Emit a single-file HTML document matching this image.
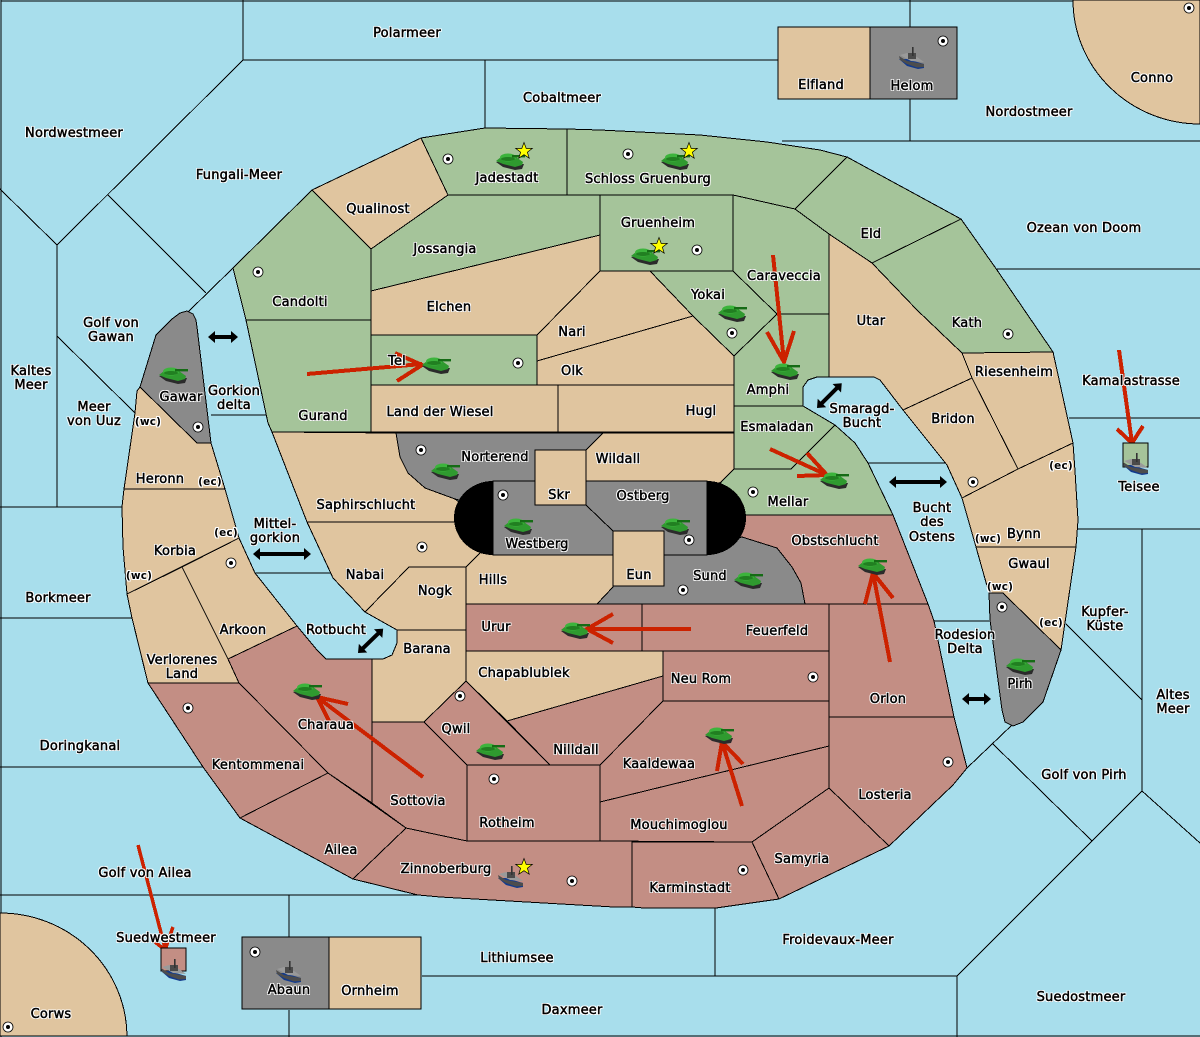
<!DOCTYPE html>
<html><head><meta charset="utf-8"><title>Map</title>
<style>
html,body{margin:0;padding:0;width:1200px;height:1037px;overflow:hidden;background:#a8deec}
#m{position:relative;width:1200px;height:1037px;overflow:hidden;background:#a8deec}
svg{position:absolute;left:0;top:0;display:block}
.t{fill:#e0c59f}.g{fill:#a5c49a}.r{fill:#c38e84}.y{fill:#8a8a8a}
polygon,rect.b,path.b{stroke:#000;stroke-width:1}
.s line,.s path{stroke:#000;stroke-width:1;fill:none}
.a path{stroke:#cc2200;stroke-width:4;fill:none}
#m span{position:absolute;transform:translate(-50%,calc(-50% + 2px));white-space:nowrap;font:13px/14px "DejaVu Sans","Liberation Sans",sans-serif;letter-spacing:.2px;color:#000;-webkit-text-stroke:.5px #000;text-shadow:1px 0 0 #fff,-1px 0 0 #fff,0 1px 0 #fff,0 -1px 0 #fff,1px 1px 0 #fff,-1px -1px 0 #fff,1px -1px 0 #fff,-1px 1px 0 #fff}
#m span.w{font-size:10.5px;font-weight:bold;-webkit-text-stroke:0}
</style></head><body><div id="m">
<svg width="1200" height="1037" viewBox="0 0 1200 1037" shape-rendering="crispEdges">
<defs>
<g id="tk" shape-rendering="auto"><polygon style="stroke:none" fill="#2b2b2b" points="0,10 7,15 19,18 26,17 28,12 19,12 7,9"/><polygon style="stroke:none" fill="#2f9a2f" points="0,9 5,5 20,5 27,10 26,13 19,15 7,12"/><ellipse cx="12" cy="5.5" rx="8" ry="4" fill="#3cb43c"/><ellipse cx="12" cy="7" rx="7" ry="2" fill="#217f21"/><rect x="16" y="3" width="13" height="2.4" fill="#156b15"/></g>
<g id="sh" shape-rendering="auto"><polygon style="stroke:none" fill="#123a8c" points="0,12 8,19 19,22 25,21 25,17 8,12"/><polygon style="stroke:none" fill="#4d4d4d" points="0,9 8,14 25,17 25,20 18,20.5 8,17 1,13"/><polygon style="stroke:none" fill="#9a9a9a" points="1,8 8,6 18,10 25,15 12,14"/><rect x="9" y="6" width="8" height="6" fill="#4a4a4a"/><rect x="13" y="0" width="1.6" height="9" fill="#333"/></g>
<g id="d" shape-rendering="auto"><circle r="5" fill="#fff" stroke="#000" stroke-width=".8"/><circle r="2" fill="#000"/></g>
<polygon id="st" shape-rendering="auto" style="stroke:#000;stroke-width:.7" fill="#ff0" points="0,-8.5 2.2,-2.6 8.3,-2.6 3.4,1.2 5.2,7.2 0,3.7 -5.2,7.2 -3.4,1.2 -8.3,-2.6 -2.2,-2.6"/>
</defs>

<g class="s">
<path d="M1,1H1200M1,0V1037M0,1036H1200"/>
<path d="M243,0V60H778M485,60V128M243,60L57,245L0,189M57,245V507M108,195L206,293M233,268L188,312M57,336L135,413M0,507H122M0,618H132M0,767H203M0,895H418M289,895V937M289,1010V1037M422,976H957M715,908V976M957,976V1037M957,976L1092,841L1142,791L1200,843M1092,841L993,744M1142,791V529M1078,529H1200M1069,418H1200M997,269H1200M1066,624L1142,700M1012,725L967,768M910,0V27M910,99V141M782,141H1200M934,621H989M868,463H945M211,415H266M255,573H330"/>
</g>
<path class="t b" d="M1073,0A127,124 0 0 0 1200,124V0Z"/>
<path class="t b" d="M0,913A127,124 0 0 1 127,1036H0Z"/>

<!-- north -->
<polygon class="t" points="312,190 421,138 448,195 371,249"/>
<polygon class="g" points="421,138 485,128 567,129 567,195 448,195"/>
<polygon class="g" points="567,129 600,130 700,135 767,142 820,150 847,157 795,209 733,195 567,195"/>
<polygon class="g" points="233,268 312,190 371,249 371,320 246,320"/>
<polygon class="g" points="246,320 371,320 371,432 272,432 268,423"/>
<polygon class="g" points="371,249 448,195 600,195 600,235 371,291"/>
<polygon class="g" points="600,195 733,195 733,271 600,271"/>
<polygon class="t" points="371,291 600,235 600,271 537,335 371,335"/>
<polygon class="t" points="600,271 650,271 693,316 537,361 537,335"/>
<polygon class="t" points="537,361 693,316 734,356 734,385 537,385"/>
<polygon class="g" points="371,335 537,335 537,385 371,385"/>
<polygon class="t" points="371,385 558,385 558,432 371,432"/>
<polygon class="t" points="558,385 734,385 734,432 558,432"/>
<polygon class="g" points="650,271 733,271 777,314 734,356 693,316"/>
<polygon class="g" points="733,195 795,209 829,234 829,314 777,314 733,271"/>
<polygon class="g" points="777,314 829,314 829,377 817,377 808,380 803,387 803,406 734,406 734,356"/>
<polygon class="g" points="847,157 961,219 872,263 829,234 795,209"/>
<polygon class="g" points="961,219 997,270 1053,352 962,353 917,310 872,263"/>
<polygon class="t" points="829,234 872,263 917,310 962,353 972,378 903,410 880,380 874,377 829,377"/>
<polygon class="t" points="962,353 1053,352 1073,443 1018,469 972,378"/>
<polygon class="t" points="972,378 1018,469 962,498 947,465 903,410"/>
<polygon class="t" points="962,498 1018,469 1073,443 1075,471 1078,520 1076,547 976,547"/>
<polygon class="t" points="976,547 1076,547 1061,650 1003,593 989,593"/>
<polygon class="y" points="989,593 1003,593 1061,650 1043,702 1023,722 1013,726 1005,722 1002,710 990,620"/>
<polygon class="g" points="734,406 803,406 835,425 791,469 734,469"/>
<polygon class="g" points="721,482 734,469 791,469 835,425 855,443 868,463 893,515 746,515 720,515"/>
<polygon class="r" points="746,515 893,515 928,604 805,604 707,604 707,515"/>
<!-- west -->
<polygon class="y" points="140,387 156,335 172,319 180,313 187,311 193,314 196,320 197,327 211,443 197,443"/>
<polygon class="t" points="140,387 197,443 211,443 225,489 124,489 135,413 137,391"/>
<polygon class="t" points="124,489 225,489 239,538 127,594 123,547 122,507"/>
<polygon class="t" points="127,594 182,567 228,659 239,683 148,683 132,618"/>
<polygon class="t" points="182,567 239,538 255,573 297,626 228,659"/>
<polygon class="r" points="297,626 317,650 326,659 372,659 372,803 328,773 239,683 228,659"/>
<polygon class="r" points="148,683 239,683 328,773 240,818 203,767"/>
<polygon class="r" points="240,818 328,773 406,828 353,879"/>
<!-- centre -->
<polygon class="t" points="272,432 396,433 400,457 408,473 425,488 455,499 470,510 470,522 307,522"/>
<polygon class="y" points="396,433 603,433 586,450 586,490 493,490 480,505 455,499 425,488 408,473 400,457"/>
<polygon class="t" points="603,433 734,433 734,469 721,482 707,490 586,490 586,450"/>
<polygon class="t" points="307,522 470,522 480,553 466,567 409,567 365,612 333,578"/>
<polygon class="t" points="466,567 480,553 480,545 613,545 613,587 597,604 466,604"/>
<polygon class="t" points="409,567 466,567 466,630 397,630 365,612"/>
<polygon class="y" points="597,604 613,587 613,545 707,545 742,537 777,548 792,567 801,583 805,604"/>
<polygon class="r" points="466,604 642,604 642,651 466,651"/>
<polygon class="r" points="642,604 829,604 829,651 642,651"/>
<polygon class="t" points="466,651 663,651 663,676 507,721 466,681"/>
<polygon class="t" points="397,630 466,630 466,681 424,722 372,722 372,659 383,659 392,655 397,643"/>
<polygon class="r" points="466,681 550,765 467,765 424,722"/>
<polygon class="r" points="507,721 663,676 663,701 600,765 550,765"/>
<polygon class="r" points="467,765 600,765 600,841 467,841"/>
<polygon class="r" points="663,651 829,651 829,701 663,701"/>
<polygon class="r" points="663,701 829,701 829,746 600,802 600,765"/>
<polygon class="r" points="600,802 829,746 829,788 752,842 600,841"/>
<polygon class="r" points="829,604 928,604 934,621 954,717 829,717"/>
<polygon class="r" points="829,717 954,717 967,768 953,785 889,846 829,788"/>
<polygon class="r" points="829,788 889,846 779,899 752,842"/>
<polygon class="r" points="632,842 752,842 779,899 716,908 644,908 632,907"/>
<polygon class="r" points="406,828 467,841 632,841 632,907 614,907 561,904 440,897 418,895 353,879"/>
<polygon class="r" points="372,722 424,722 467,765 467,841 406,828 372,803"/>
<!-- stadium -->
<rect class="y b" x="493" y="481" width="214" height="74"/>
<path d="M493,481A39,37 0 0 0 493,555ZM707,481A39,37 0 0 1 707,555Z" fill="#000"/>
<rect class="t b" x="535" y="450" width="51" height="55"/>
<rect class="t b" x="613" y="531" width="51" height="55"/>
<g class="s"><path d="M586,505L613,531"/></g>

<!-- red arrows -->
<g class="a">
<path d="M307,374L422,364M395,353L422,365L397,381"/>
<path d="M773,255L784,362M767,332L784,362L794,331"/>
<path d="M770,449L827,475M807,453L827,475L797,476"/>
<path d="M691,629L587,629M613,614L587,629L613,643"/>
<path d="M890,662L873,573M865,604L873,573L893,598"/>
<path d="M742,806L722,742M717,771L722,742L743,764"/>
<path d="M423,777L317,697M348,704L317,697L329,721"/>
<path d="M1119,350L1132,443M1117,429L1132,443L1143,426"/>
<path style="stroke-width:3.5" d="M138,845L165,948M155,942L165,950L173,927"/>
</g>

<!-- boxes -->
<rect class="t b" x="778" y="27" width="92" height="72"/>
<rect class="y b" x="870" y="27" width="87" height="72"/>
<rect class="y b" x="242" y="937" width="87" height="72"/>
<rect class="t b" x="329" y="937" width="92" height="72"/>
<rect class="g b" x="1123" y="443" width="25" height="24"/>
<rect class="r b" x="161" y="948" width="25" height="23"/>

<!-- tanks -->
<use href="#tk" x="496" y="152"/><use href="#tk" x="661" y="152"/><use href="#tk" x="631" y="247"/>
<use href="#tk" x="718" y="304"/><use href="#tk" x="771" y="362"/><use href="#tk" x="820" y="471"/>
<use href="#tk" x="422" y="356"/><use href="#tk" x="159" y="366"/><use href="#tk" x="431" y="462"/>
<use href="#tk" x="504" y="517"/><use href="#tk" x="661" y="517"/><use href="#tk" x="734" y="571"/>
<use href="#tk" x="858" y="557"/><use href="#tk" x="1006" y="657"/><use href="#tk" x="561" y="621"/>
<use href="#tk" x="293" y="682"/><use href="#tk" x="476" y="742"/><use href="#tk" x="705" y="726"/>
<!-- ships -->
<use href="#sh" x="899" y="47"/><use href="#sh" x="276" y="961"/><use href="#sh" x="161" y="959"/><use href="#sh" x="1123" y="453"/><use href="#sh" x="498" y="866"/>
<!-- stars -->
<use href="#st" x="524" y="151"/><use href="#st" x="689" y="151"/><use href="#st" x="659" y="246"/><use href="#st" x="524" y="867"/>
<!-- dots -->
<use href="#d" x="448" y="159"/><use href="#d" x="258" y="272"/><use href="#d" x="518" y="363"/><use href="#d" x="198" y="427"/>
<use href="#d" x="421" y="450"/><use href="#d" x="503" y="495"/><use href="#d" x="628" y="154"/><use href="#d" x="697" y="250"/>
<use href="#d" x="732" y="333"/><use href="#d" x="1008" y="334"/><use href="#d" x="973" y="482"/><use href="#d" x="753" y="492"/>
<use href="#d" x="689" y="540"/><use href="#d" x="683" y="590"/><use href="#d" x="422" y="547"/><use href="#d" x="231" y="563"/>
<use href="#d" x="188" y="708"/><use href="#d" x="460" y="696"/><use href="#d" x="494" y="779"/><use href="#d" x="572" y="881"/>
<use href="#d" x="813" y="677"/><use href="#d" x="948" y="762"/><use href="#d" x="743" y="870"/><use href="#d" x="1002" y="607"/>
<use href="#d" x="1189" y="8"/><use href="#d" x="943" y="41"/><use href="#d" x="255" y="952"/><use href="#d" x="8" y="1027"/>
<!-- black arrows -->
<g fill="#000" shape-rendering="auto">
<path d="M208,337l7,-6v4h16v-4l7,6l-7,6v-4h-16v4z"/>
<path d="M962,699l7,-6v4h15v-4l7,6l-7,6v-4h-15v4z"/>
<path d="M889,482l7,-6v4h44v-4l7,6l-7,6v-4h-44v4z"/>
<path d="M253,554l7,-6v4h44v-4l7,6l-7,6v-4h-44v4z"/>
<path transform="translate(358,653) rotate(-44)" d="M0,0l7,-6v4h21v-4l7,6l-7,6v-4h-21v4z"/>
<path transform="translate(817,408) rotate(-45)" d="M0,0l7,-6v4h21v-4l7,6l-7,6v-4h-21v4z"/>
</g>
</svg>

<span style="left:407px;top:32px">Polarmeer</span>
<span style="left:562px;top:97px">Cobaltmeer</span>
<span style="left:821px;top:84px">Elfland</span>
<span style="left:912px;top:85px">Helom</span>
<span style="left:1152px;top:77px">Conno</span>
<span style="left:1029px;top:111px">Nordostmeer</span>
<span style="left:74px;top:132px">Nordwestmeer</span>
<span style="left:239px;top:174px">Fungali-Meer</span>
<span style="left:378px;top:208px">Qualinost</span>
<span style="left:507px;top:177px">Jadestadt</span>
<span style="left:648px;top:178px">Schloss Gruenburg</span>
<span style="left:871px;top:233px">Eld</span>
<span style="left:658px;top:222px">Gruenheim</span>
<span style="left:445px;top:248px">Jossangia</span>
<span style="left:784px;top:275px">Caraveccia</span>
<span style="left:1084px;top:227px">Ozean von Doom</span>
<span style="left:708px;top:294px">Yokai</span>
<span style="left:300px;top:301px">Candolti</span>
<span style="left:449px;top:306px">Elchen</span>
<span style="left:871px;top:320px">Utar</span>
<span style="left:967px;top:322px">Kath</span>
<span style="left:572px;top:331px">Nari</span>
<span style="left:111px;top:322px">Golf von</span>
<span style="left:111px;top:336px">Gawan</span>
<span style="left:31px;top:370px">Kaltes</span>
<span style="left:31px;top:384px">Meer</span>
<span style="left:397px;top:360px">Tel</span>
<span style="left:572px;top:370px">Olk</span>
<span style="left:1014px;top:371px">Riesenheim</span>
<span style="left:1131px;top:380px">Kamalastrasse</span>
<span style="left:768px;top:389px">Amphi</span>
<span style="left:181px;top:396px">Gawar</span>
<span style="left:234px;top:390px">Gorkion</span>
<span style="left:234px;top:404px">delta</span>
<span style="left:94px;top:406px">Meer</span>
<span style="left:94px;top:420px">von Uuz</span>
<span class="w" style="left:148px;top:420px">(wc)</span>
<span style="left:440px;top:411px">Land der Wiesel</span>
<span style="left:701px;top:410px">Hugl</span>
<span style="left:323px;top:415px">Gurand</span>
<span style="left:862px;top:408px">Smaragd-</span>
<span style="left:862px;top:422px">Bucht</span>
<span style="left:953px;top:418px">Bridon</span>
<span style="left:777px;top:426px">Esmaladan</span>
<span style="left:495px;top:456px">Norterend</span>
<span style="left:618px;top:458px">Wildall</span>
<span class="w" style="left:1061px;top:464px">(ec)</span>
<span style="left:160px;top:478px">Heronn</span>
<span class="w" style="left:210px;top:480px">(ec)</span>
<span style="left:1139px;top:486px">Teisee</span>
<span style="left:559px;top:494px">Skr</span>
<span style="left:643px;top:495px">Ostberg</span>
<span style="left:788px;top:501px">Mellar</span>
<span style="left:366px;top:504px">Saphirschlucht</span>
<span style="left:932px;top:507px">Bucht</span>
<span style="left:932px;top:521px">des</span>
<span style="left:932px;top:536px">Ostens</span>
<span style="left:275px;top:523px">Mittel-</span>
<span style="left:275px;top:537px">gorkion</span>
<span class="w" style="left:226px;top:531px">(ec)</span>
<span style="left:1024px;top:533px">Bynn</span>
<span class="w" style="left:988px;top:537px">(wc)</span>
<span style="left:835px;top:540px">Obstschlucht</span>
<span style="left:537px;top:543px">Westberg</span>
<span style="left:175px;top:550px">Korbia</span>
<span style="left:1029px;top:563px">Gwaul</span>
<span class="w" style="left:139px;top:574px">(wc)</span>
<span style="left:365px;top:574px">Nabai</span>
<span style="left:639px;top:574px">Eun</span>
<span style="left:710px;top:575px">Sund</span>
<span style="left:493px;top:579px">Hills</span>
<span class="w" style="left:1000px;top:585px">(wc)</span>
<span style="left:435px;top:590px">Nogk</span>
<span style="left:58px;top:597px">Borkmeer</span>
<span style="left:1105px;top:611px">Kupfer-</span>
<span style="left:1105px;top:625px">Küste</span>
<span class="w" style="left:1051px;top:621px">(ec)</span>
<span style="left:496px;top:626px">Urur</span>
<span style="left:336px;top:629px">Rotbucht</span>
<span style="left:243px;top:629px">Arkoon</span>
<span style="left:777px;top:630px">Feuerfeld</span>
<span style="left:965px;top:634px">Rodesion</span>
<span style="left:965px;top:648px">Delta</span>
<span style="left:427px;top:648px">Barana</span>
<span style="left:182px;top:659px">Verlorenes</span>
<span style="left:182px;top:673px">Land</span>
<span style="left:524px;top:672px">Chapablublek</span>
<span style="left:701px;top:678px">Neu Rom</span>
<span style="left:1020px;top:683px">Pirh</span>
<span style="left:1173px;top:694px">Altes</span>
<span style="left:1173px;top:708px">Meer</span>
<span style="left:888px;top:698px">Orlon</span>
<span style="left:326px;top:724px">Charaua</span>
<span style="left:456px;top:728px">Qwil</span>
<span style="left:576px;top:749px">Nilldall</span>
<span style="left:80px;top:745px">Doringkanal</span>
<span style="left:659px;top:763px">Kaaldewaa</span>
<span style="left:258px;top:764px">Kentommenai</span>
<span style="left:1084px;top:774px">Golf von Pirh</span>
<span style="left:885px;top:794px">Losteria</span>
<span style="left:418px;top:800px">Sottovia</span>
<span style="left:507px;top:822px">Rotheim</span>
<span style="left:679px;top:824px">Mouchimoglou</span>
<span style="left:341px;top:849px">Ailea</span>
<span style="left:802px;top:858px">Samyria</span>
<span style="left:446px;top:868px">Zinnoberburg</span>
<span style="left:145px;top:872px">Golf von Ailea</span>
<span style="left:690px;top:887px">Karminstadt</span>
<span style="left:166px;top:937px">Suedwestmeer</span>
<span style="left:838px;top:939px">Froidevaux-Meer</span>
<span style="left:517px;top:957px">Lithiumsee</span>
<span style="left:289px;top:989px">Abaun</span>
<span style="left:370px;top:990px">Ornheim</span>
<span style="left:1081px;top:996px">Suedostmeer</span>
<span style="left:572px;top:1009px">Daxmeer</span>
<span style="left:51px;top:1013px">Corws</span>
</div></body></html>
